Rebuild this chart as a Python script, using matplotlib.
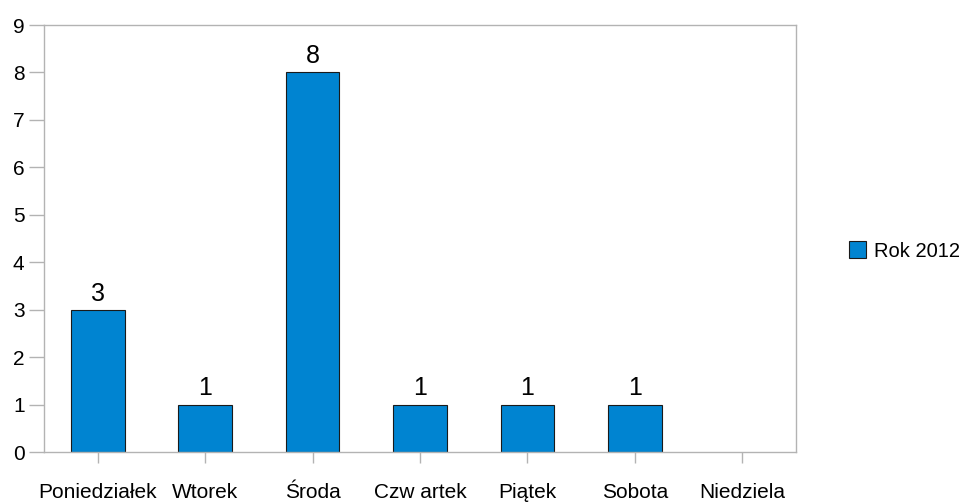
import numpy as np
import matplotlib.pyplot as plt
from matplotlib.patches import Patch

plt.rcParams['font.family'] = ['Liberation Sans', 'DejaVu Sans']

# Data
days = ['Poniedziałek', 'Wtorek', 'Środa', 'Czw artek', 'Piątek', 'Sobota', 'Niedziela']
values = [3, 1, 8, 1, 1, 1, 0]
series_name = 'Rok 2012'

bar_color = '#0084d1'
frame_color = '#b3b3b3'

fig = plt.figure(figsize=(9.67, 5.03), dpi=100)
ax = fig.add_axes([44 / 967, 1 - 452 / 503, (796 - 44) / 967, (452 - 25) / 503])

x = np.arange(len(days))
shown = [v if v > 0 else np.nan for v in values]
bars = ax.bar(x, shown, width=0.5, color=bar_color, edgecolor='#1a1a1a', linewidth=0.8)

for xi, v in zip(x, values):
    if v > 0:
        ax.annotate(str(v), (xi, v), xytext=(0, 3), textcoords='offset points',
                    ha='center', va='bottom', fontsize=18)

ax.set_xlim(-0.5, len(days) - 0.5)
ax.set_ylim(0, 9)
ax.set_yticks(range(0, 10))
ax.set_xticks(x)
ax.set_xticklabels(days)

for s in ax.spines.values():
    s.set_color(frame_color)
    s.set_linewidth(1)

ax.tick_params(axis='y', length=11, color=frame_color, labelsize=15, pad=3, width=1)
ax.tick_params(axis='x', length=8, color=frame_color, labelsize=15, pad=14, width=1)

handles = [Patch(facecolor=bar_color, edgecolor='#1a1a1a', linewidth=0.8)]
fig.legend(handles, [series_name], loc='center left', bbox_to_anchor=(849 / 967, 1 - 251 / 503),
           frameon=False, fontsize=14.5, handlelength=0.85, handleheight=0.85, handletextpad=0.4,
           borderpad=0, borderaxespad=0)

fig.savefig('out.png', dpi=100)
